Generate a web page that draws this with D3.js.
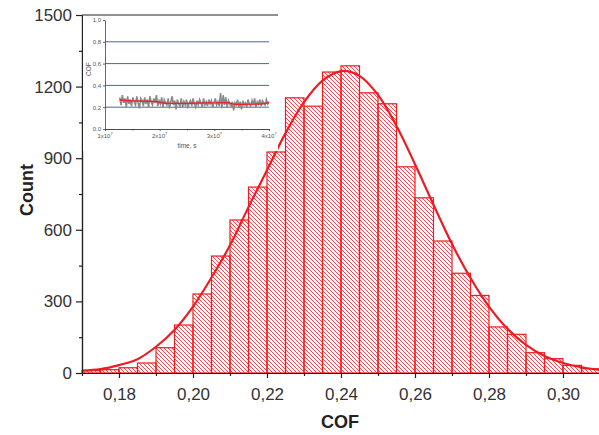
<!DOCTYPE html>
<html>
<head>
<meta charset="utf-8">
<script src="https://cdn.jsdelivr.net/npm/d3@7"></script>
<style>
  body { margin: 0; background: #fff; }
  svg { display: block; font-family: "Liberation Sans", Arial, sans-serif; }
</style>
</head>
<body>
<svg id="chart" width="599" height="435"></svg>
<script>
// histogram bins (left edge of each 0.005 wide bin) and counts
var binStarts = [0.170, 0.175, 0.180, 0.185, 0.190, 0.195, 0.200, 0.205, 0.210, 0.215,
                 0.220, 0.225, 0.230, 0.235, 0.240, 0.245, 0.250, 0.255, 0.260, 0.265,
                 0.270, 0.275, 0.280, 0.285, 0.290, 0.295, 0.300, 0.305];
var binCounts = [10, 14, 22, 42, 106, 201, 331, 490, 641, 779,
                 926, 1153, 1118, 1261, 1287, 1174, 1128, 864, 734, 553,
                 418, 325, 193, 162, 85, 60, 32, 18];
var binWidth = 0.005;

// fitted curve
var fitCOF = [0.170, 0.175, 0.180, 0.185, 0.190, 0.195, 0.200, 0.205, 0.210, 0.215,
              0.220, 0.225, 0.230, 0.235, 0.240, 0.245, 0.250, 0.255, 0.260, 0.265,
              0.270, 0.275, 0.280, 0.285, 0.290, 0.295, 0.300, 0.305, 0.310];
var fitCount = [10, 16, 33, 58, 110, 180, 278, 400, 535, 695,
                850, 1005, 1135, 1225, 1265, 1245, 1165, 1035, 875, 705,
                540, 398, 278, 185, 118, 71, 42, 24, 13];

var xMajorTicks = [0.18, 0.20, 0.22, 0.24, 0.26, 0.28, 0.30];
var xMinorTicks = [0.17, 0.19, 0.21, 0.23, 0.25, 0.27, 0.29, 0.31];
var yMajorTicks = [0, 300, 600, 900, 1200, 1500];
var yMinorTicks = [150, 450, 750, 1050, 1350];

// inset: COF versus time
var insetTimeTicks = [1e7, 2e7, 3e7, 4e7];
var insetTimeLabels = ["1x10", "2x10", "3x10", "4x10"];
var insetCOFTicks = [0, 0.2, 0.4, 0.6, 0.8, 1.0];
var insetGrid = [0.2, 0.4, 0.6, 0.8];
var insetTraceStart = 1.27e7, insetTraceEnd = 4.0e7;
var insetTrace = [
  0.29,0.22,0.31,0.24,0.28,0.20,0.30,0.23,0.27,0.21,0.29,0.25,0.22,0.30,0.24,0.19,0.28,0.26,0.21,0.29,
  0.23,0.27,0.20,0.30,0.25,0.22,0.28,0.24,0.31,0.21,0.26,0.23,0.29,0.20,0.27,0.24,0.22,0.28,0.19,0.25,
  0.30,0.22,0.26,0.18,0.27,0.23,0.21,0.28,0.20,0.25,0.22,0.27,0.19,0.24,0.26,0.21,0.28,0.23,0.20,0.26,
  0.22,0.27,0.24,0.20,0.28,0.22,0.25,0.21,0.27,0.23,0.26,0.20,0.24,0.28,0.22,0.25,0.21,0.33,0.19,0.31,
  0.22,0.29,0.20,0.26,0.23,0.21,0.25,0.17,0.24,0.22,0.27,0.20,0.25,0.18,0.26,0.22,0.24,0.20,0.27,0.23,
  0.21,0.26,0.22,0.28,0.20,0.25,0.23,0.27,0.21,0.26,0.24,0.22,0.27,0.23,0.25];
var insetSmoothTime = [1.27e7, 1.5e7, 1.75e7, 1.95e7, 2.1e7, 2.4e7, 2.7e7, 3.0e7, 3.25e7, 3.4e7, 3.7e7, 3.9e7, 4.0e7];
var insetSmoothCOF  = [0.266, 0.258, 0.255, 0.250, 0.236, 0.235, 0.238, 0.240, 0.241, 0.226, 0.228, 0.232, 0.243];

var red = "#ec1c24";
var axisColor = "#222";

var svg = d3.select("#chart");

var x = d3.scaleLinear().domain([0.17, 0.31]).range([82, 600]);
var y = d3.scaleLinear().domain([0, 1500]).range([373, 15]);

// hatch pattern for the bars
var defs = svg.append("defs");
defs.append("pattern")
    .attr("id", "hatch")
    .attr("patternUnits", "userSpaceOnUse")
    .attr("width", 4)
    .attr("height", 4)
  .append("path")
    .attr("d", "M-1,-1L5,5M-1,3L1,5M3,-1L5,1")
    .attr("stroke", red)
    .attr("stroke-width", 0.8);

// bars
var bins = binStarts.map(function (b, i) { return { x0: b, x1: b + binWidth, n: binCounts[i] }; });

svg.append("g")
    .attr("class", "bars")
    .selectAll("rect")
    .data(bins)
    .enter()
    .append("rect")
    .attr("x", function (d) { return x(d.x0); })
    .attr("y", function (d) { return y(d.n); })
    .attr("width", function (d) { return x(d.x1) - x(d.x0); })
    .attr("height", function (d) { return y(0) - y(d.n); })
    .attr("fill", "url(#hatch)")
    .attr("stroke", red)
    .attr("stroke-width", 1.2);

// fit curve
var fitLine = d3.line()
    .x(function (d, i) { return x(fitCOF[i]); })
    .y(function (d) { return y(d); })
    .curve(d3.curveCatmullRom);

svg.append("path")
    .datum(fitCount)
    .attr("d", fitLine)
    .attr("fill", "none")
    .attr("stroke", red)
    .attr("stroke-width", 2.2);

// axes
var commaFmt = function (v) { return d3.format(".2f")(v).replace(".", ","); };

var xAxis = svg.append("g")
    .attr("transform", "translate(0," + y(0) + ")")
    .call(d3.axisBottom(x).tickValues(xMajorTicks).tickFormat(commaFmt).tickSize(5).tickSizeOuter(0).tickPadding(6));
svg.append("g")
    .attr("transform", "translate(0," + y(0) + ")")
    .call(d3.axisBottom(x).tickValues(xMinorTicks).tickFormat("").tickSize(3).tickSizeOuter(0));

var yAxis = svg.append("g")
    .attr("transform", "translate(" + x(0.17) + ",0)")
    .call(d3.axisLeft(y).tickValues(yMajorTicks).tickFormat(d3.format("d")).tickSize(6).tickSizeOuter(0).tickPadding(4));
svg.append("g")
    .attr("transform", "translate(" + x(0.17) + ",0)")
    .call(d3.axisLeft(y).tickValues(yMinorTicks).tickFormat("").tickSize(3).tickSizeOuter(0));

svg.selectAll(".domain, .tick line")
    .attr("stroke", axisColor)
    .attr("stroke-width", 1.2);
xAxis.selectAll("text").style("font-size", "17px").attr("fill", "#333").attr("dy", "0.95em");
yAxis.selectAll("text").style("font-size", "17px").attr("fill", "#333");

svg.append("text")
    .attr("x", 340)
    .attr("y", 428)
    .attr("text-anchor", "middle")
    .style("font-size", "18px")
    .style("font-weight", "bold")
    .attr("fill", axisColor)
    .text("COF");

svg.append("text")
    .attr("transform", "translate(33,190) rotate(-90)")
    .attr("text-anchor", "middle")
    .style("font-size", "18px")
    .style("font-weight", "bold")
    .attr("fill", axisColor)
    .text("Count");

// ---- inset ----
var tx = d3.scaleLinear().domain([1e7, 4e7]).range([105, 269]);
var ty = d3.scaleLinear().domain([0, 1]).range([129, 20]);
var inset = svg.append("g").attr("class", "inset");

inset.append("rect")
    .attr("x", 83).attr("y", 15)
    .attr("width", 195).attr("height", 136)
    .attr("fill", "#fff");
inset.append("line")
    .attr("x1", 82).attr("x2", 278)
    .attr("y1", 15).attr("y2", 15)
    .attr("stroke", axisColor).attr("stroke-width", 1.2);

inset.selectAll(".grid")
    .data(insetGrid)
    .enter()
    .append("line")
    .attr("class", "grid")
    .attr("x1", tx(1e7)).attr("x2", tx(4e7))
    .attr("y1", function (d) { return ty(d); })
    .attr("y2", function (d) { return ty(d); })
    .attr("stroke", "#4e62ad")
    .attr("stroke-width", 1);

var traceStep = (insetTraceEnd - insetTraceStart) / (insetTrace.length - 1);
inset.append("path")
    .datum(insetTrace)
    .attr("d", d3.line()
        .x(function (d, i) { return tx(insetTraceStart + i * traceStep); })
        .y(function (d) { return ty(d); }))
    .attr("fill", "none")
    .attr("stroke", "#8a8a8a")
    .attr("stroke-width", 1.6);

inset.append("path")
    .datum(insetSmoothCOF)
    .attr("d", d3.line()
        .x(function (d, i) { return tx(insetSmoothTime[i]); })
        .y(function (d) { return ty(d); })
        .curve(d3.curveMonotoneX))
    .attr("fill", "none")
    .attr("stroke", "#e8262c")
    .attr("stroke-width", 1.4);

inset.append("g")
    .attr("transform", "translate(0," + ty(0) + ")")
    .call(d3.axisBottom(tx).tickValues(insetTimeTicks).tickFormat("").tickSize(2).tickSizeOuter(0));
inset.append("g")
    .attr("transform", "translate(0," + ty(0) + ")")
    .call(d3.axisBottom(tx).tickValues([1.5e7, 2.5e7, 3.5e7]).tickFormat("").tickSize(1.5).tickSizeOuter(0));
var insetY = inset.append("g")
    .attr("transform", "translate(" + tx(1e7) + ",0)")
    .call(d3.axisLeft(ty).tickValues(insetCOFTicks).tickFormat(function (v) { return d3.format(".1f")(v).replace(".", ","); })
        .tickSize(2).tickSizeOuter(0).tickPadding(2));
inset.selectAll(".domain, .tick line").attr("stroke", "#444").attr("stroke-width", 0.8);
insetY.selectAll("text").style("font-size", "6px").attr("fill", "#555");

var tl = inset.selectAll(".tlabel")
    .data(insetTimeTicks)
    .enter()
    .append("text")
    .attr("class", "tlabel")
    .attr("x", function (d) { return tx(d); })
    .attr("y", 138)
    .attr("text-anchor", "middle")
    .style("font-size", "6px")
    .attr("fill", "#555");
tl.append("tspan").text(function (d, i) { return insetTimeLabels[i]; });
tl.append("tspan").attr("dy", -3).style("font-size", "4px").text("7");

inset.append("text")
    .attr("x", tx(2.5e7))
    .attr("y", 148)
    .attr("text-anchor", "middle")
    .style("font-size", "6.5px")
    .attr("fill", "#555")
    .text("time, s");

inset.append("text")
    .attr("transform", "translate(91," + ty(0.55) + ") rotate(-90)")
    .attr("text-anchor", "middle")
    .style("font-size", "6.5px")
    .attr("fill", "#555")
    .text("COF");
</script>
</body>
</html>
